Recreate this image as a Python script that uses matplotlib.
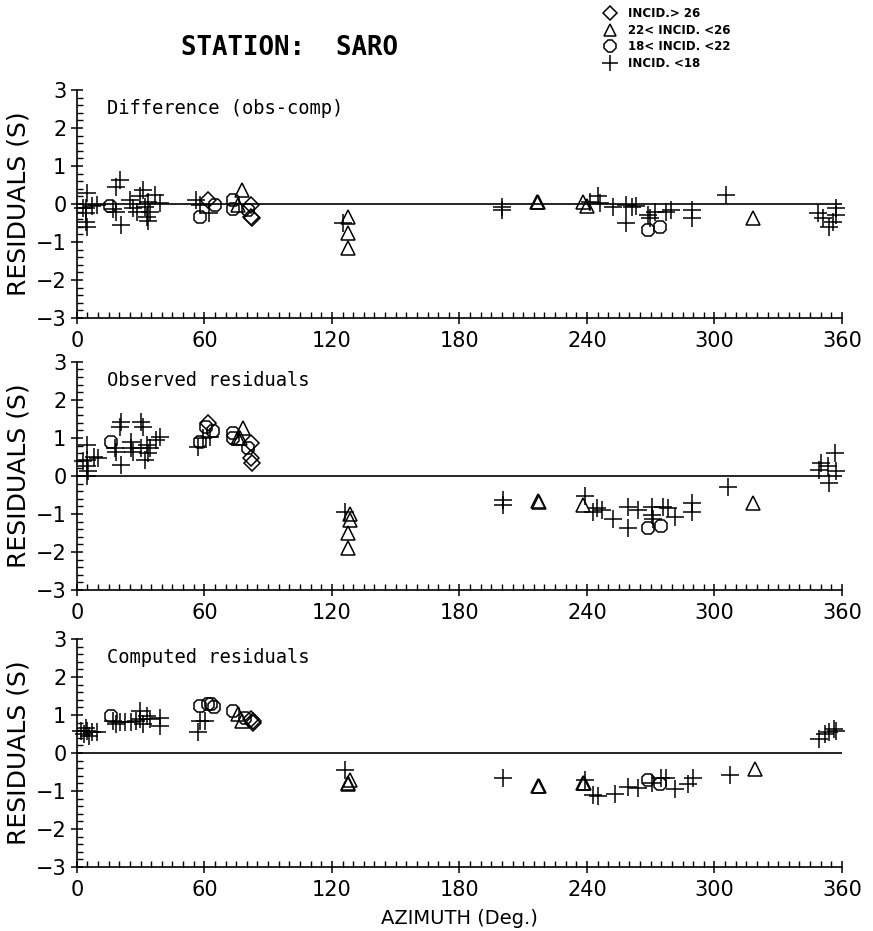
import matplotlib
matplotlib.use("Agg")
import matplotlib.pyplot as plt
from matplotlib.lines import Line2D
from matplotlib.ticker import MultipleLocator

# ---- data (azimuth in deg, residual in s) ----
# panel 1: difference (obs-comp)
diff_plus_az = [4.8, 4.2, 4.2, 4.5, 4.8, 2.9, 7.2, 9.6, 17.0, 18.6, 20.2, 18.6, 21.0, 25.0, 26.5, 28.1,
                29.7, 31.2, 32.0, 32.8, 33.6, 34.4, 33.6, 37.0, 39.0, 56.2, 57.8, 62.0, 125.0,
                200.0, 200.0, 241.5, 245.3, 246.0, 252.4, 258.6, 261.0, 258.6, 263.3, 268.8, 269.6,
                272.0, 277.4, 279.7, 289.2, 289.2, 305.6, 348.7, 351.0, 354.1, 355.7, 357.3, 357.3]
diff_plus_res = [0.29, -0.11, -0.24, -0.47, -0.6, -0.1, -0.06, -0.03, -0.13, -0.2, 0.63, 0.45, -0.56, 0.1, -0.11, -0.2,
                 0.2, 0.37, -0.07, -0.33, -0.45, -0.2, 0.06, 0.24, 0.02, 0.1, -0.03, -0.24, -0.49,
                 -0.07, -0.16, 0.06, 0.2, 0.02, -0.07, -0.03, -0.07, -0.49, -0.05, -0.29, -0.38,
                 -0.2, -0.2, -0.16, -0.16, -0.38, 0.24, -0.24, -0.38, -0.6, -0.47, -0.11, -0.29]
diff_tri_az = [77.6, 76.0, 127.5, 127.5, 127.5, 216.3, 216.8, 238.3, 239.8, 318.2]
diff_tri_res = [0.37, -0.02, -0.33, -0.77, -1.17, 0.06, 0.04, 0.05, -0.05, -0.38]
diff_circ_az = [15.5, 57.8, 65.0, 73.6, 73.6, 80.5, 268.5, 274.3]
diff_circ_res = [-0.05, -0.33, -0.03, 0.1, -0.12, -0.15, -0.68, -0.6]
diff_diam_az = [61.6, 82.0, 82.0, 82.4]
diff_diam_res = [0.1, -0.02, -0.33, -0.36]

# panel 2: observed residuals
obs_plus_az = [4.8, 4.8, 4.8, 5.3, 4.8, 2.9, 8.3, 9.9, 18.0, 18.6, 20.2, 21.0, 21.0, 25.6, 25.6, 26.5,
               30.4, 31.2, 30.4, 32.8, 33.6, 32.0, 34.4, 37.4, 39.0, 57.0, 59.4, 62.6, 126.0,
               200.6, 200.6, 238.9, 243.0, 244.5, 246.9, 252.4, 259.4, 259.4, 264.2, 270.4, 270.4,
               271.2, 275.9, 278.2, 281.4, 289.2, 289.2, 306.5, 350.3, 349.3, 353.2, 356.6, 357.3, 354.1]
obs_plus_res = [0.81, 0.42, 0.25, 0.12, -0.01, 0.38, 0.51, 0.47, 0.73, 0.64, 1.3, 1.43, 0.3, 0.88, 0.73, 0.64,
                1.43, 1.3, 0.73, 0.82, 0.6, 0.42, 0.73, 0.95, 1.03, 0.77, 0.99, 1.03, -0.94,
                -0.63, -0.76, -0.54, -0.94, -0.85, -0.9, -1.12, -0.81, -1.38, -0.9, -0.81, -1.03,
                -1.12, -0.81, -0.85, -1.07, -0.72, -0.94, -0.28, 0.33, 0.16, 0.25, 0.6, 0.12, -0.19]
obs_tri_az = [78.2, 76.0, 76.6, 128.4, 128.4, 127.5, 127.5, 217.0, 217.4, 238.3, 318.2]
obs_tri_res = [1.25, 0.99, 1.01, -0.99, -1.16, -1.51, -1.9, -0.67, -0.69, -0.76, -0.72]
obs_circ_az = [16.2, 57.8, 61.0, 64.2, 73.6, 73.6, 80.5, 268.8, 274.7]
obs_circ_res = [0.9, 0.9, 1.3, 1.17, 1.12, 0.99, 0.73, -1.38, -1.32]
obs_diam_az = [61.6, 82.0, 82.0, 82.4]
obs_diam_res = [1.38, 0.86, 0.47, 0.33]

# panel 3: computed residuals
comp_plus_az = [1.8, 3.3, 4.8, 5.6, 7.2, 9.6, 4.1, 17.0, 18.6, 20.2, 22.7, 25.6, 28.0, 29.7, 29.7,
                31.2, 32.8, 34.4, 39.0, 39.0, 57.0, 57.8, 60.2, 126.0,
                200.6, 238.9, 243.0, 245.3, 253.2, 259.4, 264.2, 270.4, 275.0, 277.4, 281.4,
                287.7, 290.0, 307.3, 349.0, 352.2, 353.8, 356.2, 357.3]
comp_plus_res = [0.59, 0.5, 0.59, 0.45, 0.55, 0.55, 0.67, 0.85, 0.76, 0.81, 0.81, 0.81, 0.85, 1.1, 0.89,
                 0.76, 0.98, 0.89, 0.93, 0.72, 0.55, 0.85, 0.85, -0.45,
                 -0.67, -0.71, -1.1, -1.14, -1.07, -0.9, -0.92, -0.78, -0.67, -0.67, -0.96,
                 -0.81, -0.67, -0.58, 0.37, 0.5, 0.54, 0.63, 0.59]
comp_tri_az = [76.0, 77.6, 127.5, 128.4, 127.8, 217.0, 217.4, 238.3, 238.8, 319.0]
comp_tri_res = [1.02, 0.85, -0.79, -0.71, -0.82, -0.86, -0.88, -0.78, -0.8, -0.41]
comp_circ_az = [16.2, 57.8, 61.6, 63.1, 64.7, 73.6, 79.2, 268.8, 274.3]
comp_circ_res = [0.98, 1.23, 1.28, 1.28, 1.21, 1.11, 0.93, -0.71, -0.82]
comp_diam_az = [82.0, 82.7, 83.0]
comp_diam_res = [0.89, 0.8, 0.83]

panel_titles = ["Difference (obs-comp)", "Observed residuals", "Computed residuals"]
legend_labels = ["INCID.> 26", "22< INCID. <26", "18< INCID. <22", "INCID. <18"]

panels = [
    (diff_plus_az, diff_plus_res, diff_tri_az, diff_tri_res, diff_circ_az, diff_circ_res, diff_diam_az, diff_diam_res),
    (obs_plus_az, obs_plus_res, obs_tri_az, obs_tri_res, obs_circ_az, obs_circ_res, obs_diam_az, obs_diam_res),
    (comp_plus_az, comp_plus_res, comp_tri_az, comp_tri_res, comp_circ_az, comp_circ_res, comp_diam_az, comp_diam_res),
]

plt.rcParams['font.family'] = ['DejaVu Sans']
fig = plt.figure(figsize=(8.73, 9.31), dpi=100)

left, width, height = 0.088, 0.8765, 0.245
bottoms = [0.6584, 0.3663, 0.0687]

ms_style = dict(linestyle='none', color='k', markerfacecolor='none', clip_on=False)

for i, (pa, pr, ta, tr, ca, cr, da, dr) in enumerate(panels):
    ax = fig.add_axes([left, bottoms[i], width, height])
    ax.axhline(0, color='k', lw=1.2)
    ax.plot(pa, pr, marker='+', markersize=12.5, markeredgewidth=1.1, **ms_style)
    ax.plot(ta, tr, marker='^', markersize=10, markeredgewidth=1.1, **ms_style)
    ax.plot(ca, cr, marker='8', markersize=9.5, markeredgewidth=1.1, **ms_style)
    ax.plot(da, dr, marker='D', markersize=8, markeredgewidth=1.1, **ms_style)

    ax.set_xlim(0, 360)
    ax.set_ylim(-3, 3)
    ax.spines['top'].set_visible(False)
    ax.spines['right'].set_visible(False)
    ax.spines['left'].set_linewidth(1.2)
    ax.spines['bottom'].set_linewidth(1.2)
    ax.xaxis.set_major_locator(MultipleLocator(60))
    ax.xaxis.set_minor_locator(MultipleLocator(5))
    ax.yaxis.set_major_locator(MultipleLocator(1))
    ax.yaxis.set_minor_locator(MultipleLocator(0.2))
    ax.tick_params(axis='both', which='major', direction='inout', length=9, width=1.1,
                   labelsize=15, pad=3)
    ax.tick_params(axis='both', which='minor', direction='in', length=4, width=1.0)
    ax.tick_params(axis='x', which='major', pad=5)
    ax.set_ylabel("RESIDUALS (S)", fontsize=18, labelpad=4)
    ax.text(0.04, 0.92, panel_titles[i], transform=ax.transAxes, fontsize=13.5,
            family='DejaVu Sans Mono', va='center', ha='left')
    if i == 2:
        ax.set_xlabel("AZIMUTH (Deg.)", fontsize=14, labelpad=6)

fig.text(0.332, 0.948, "STATION:  SARO", fontsize=18.5, family='DejaVu Sans Mono',
         fontweight='bold', ha='center', va='center')

handles = [
    Line2D([], [], marker='D', markersize=7, markeredgewidth=1.1, linestyle='none', color='k', markerfacecolor='none'),
    Line2D([], [], marker='^', markersize=9, markeredgewidth=1.1, linestyle='none', color='k', markerfacecolor='none'),
    Line2D([], [], marker='8', markersize=9, markeredgewidth=1.1, linestyle='none', color='k', markerfacecolor='none'),
    Line2D([], [], marker='+', markersize=11, markeredgewidth=1.1, linestyle='none', color='k'),
]
fig.legend(handles, legend_labels, loc='upper left', bbox_to_anchor=(0.673, 1.004), frameon=False,
           labelspacing=0.32, handletextpad=0.5,
           prop={'family': 'DejaVu Sans', 'weight': 'bold', 'size': 8.5})

fig.savefig("out.png", dpi=100)
